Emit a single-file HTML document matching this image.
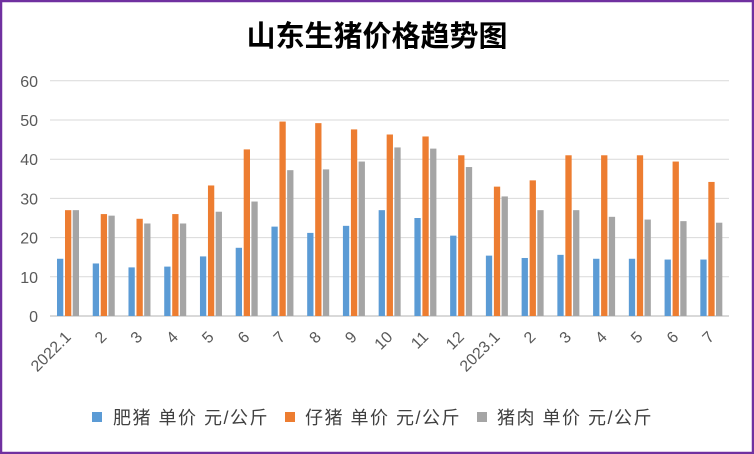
<!DOCTYPE html>
<html><head><meta charset="utf-8"><style>
html,body{margin:0;padding:0;background:#fff}
svg{display:block}
text{font-family:"Liberation Sans","Noto Sans CJK SC",sans-serif}
</style></head><body>
<svg width="754" height="454" xmlns="http://www.w3.org/2000/svg">
<rect x="1" y="1" width="752" height="452" fill="#fff" stroke="#7030a0" stroke-width="2.5"/>
<text x="377" y="46" text-anchor="middle" font-size="29" font-weight="bold" fill="#000">山东生猪价格趋势图</text>
<g id="grid" stroke="#d9d9d9" stroke-width="1"></g>
<g id="bars"></g>
<g id="lab" font-size="16" fill="#595959"></g>
<g font-size="18" fill="#404040" letter-spacing="1.5" style="font-family:'Liberation Serif','Noto Serif CJK SC',serif">
<rect x="92" y="412" width="10" height="10" fill="#5b9bd5"/><text x="113" y="424">肥猪 单价 元/公斤</text>
<rect x="285" y="412" width="10" height="10" fill="#ed7d31"/><text x="305" y="424">仔猪 单价 元/公斤</text>
<rect x="477" y="412" width="10" height="10" fill="#a5a5a5"/><text x="497" y="424">猪肉 单价 元/公斤</text>
</g>
</svg>
<script>
const ns="http://www.w3.org/2000/svg";
function el(t,a,p,txt){const e=document.createElementNS(ns,t);for(const k in a)e.setAttribute(k,a[k]);if(txt!==undefined)e.textContent=txt;p.appendChild(e);return e;}
const g=document.getElementById('grid'),b=document.getElementById('bars'),l=document.getElementById('lab');
const y0=316,s=3.92;
for(let i=0;i<=6;i++){const y=y0-i*10*s;el('line',{x1:50,x2:729,y1:y,y2:y,'stroke-width':i==0?2:1},g);
el('text',{x:38,y:y+6,'text-anchor':'end','font-size':16,fill:'#595959'},l,String(i*10));}
const B=[14.6,13.4,12.4,12.6,15.2,17.4,22.8,21.2,23,27,25,20.5,15.4,14.8,15.6,14.6,14.6,14.4,14.4];
const O=[27,26,24.8,26,33.3,42.5,49.6,49.2,47.6,46.3,45.8,41,33,34.6,41,41,41,39.4,34.2];
const G=[27,25.6,23.6,23.6,26.6,29.2,37.2,37.4,39.4,43,42.7,38,30.5,27,27,25.3,24.6,24.2,23.8];
const L=['2022.1','2','3','4','5','6','7','8','9','10','11','12','2023.1','2','3','4','5','6','7'];
const w=35.74;
for(let i=0;i<19;i++){const x=50+i*w+7;
[[B,'#5b9bd5',0],[O,'#ed7d31',8],[G,'#a5a5a5',15.7]].forEach(([d,c,o])=>{const h=d[i]*s;el('rect',{x:x+o,y:y0-h,width:6.3,height:h,fill:c},b);});
const cx=50+i*w+w/2+4;
el('text',{x:cx,y:338,'text-anchor':'end',transform:`rotate(-45 ${cx} 338)`},l,L[i]);}
</script>
</body></html>
